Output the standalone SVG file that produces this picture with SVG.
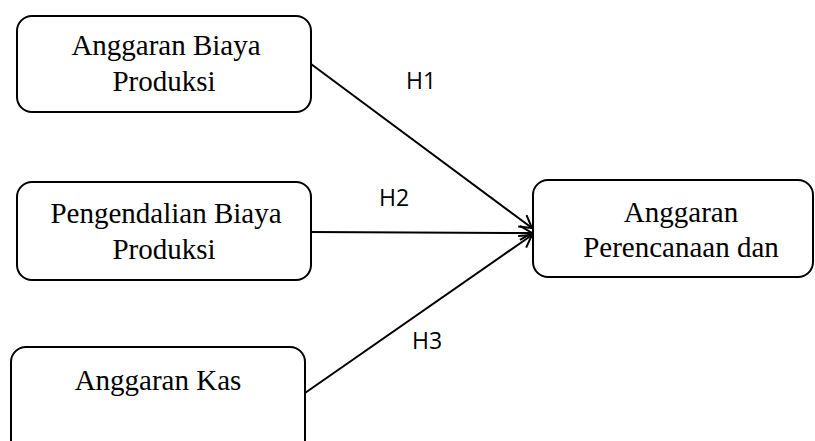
<svg xmlns="http://www.w3.org/2000/svg" width="815" height="441" viewBox="0 0 815 441">
<defs>
<style>
.box{fill:#fff;stroke:#000;stroke-width:2}
.t{font-family:"Liberation Serif","Times New Roman",serif;font-size:29px;fill:#000;text-anchor:middle}
.h{font-family:"Open Sans","Liberation Sans",sans-serif;font-size:23px;fill:#000}
.c{fill:none;stroke:#000;stroke-width:2}
</style>
<marker id="arr" markerUnits="userSpaceOnUse" markerWidth="20" markerHeight="20" refX="14" refY="8" orient="auto">
<path d="M2,1 L14,8 L2,15" fill="none" stroke="#000" stroke-width="2"/>
</marker>
</defs>
<rect width="815" height="441" fill="#fff"/>
<g id="connectors">
<line class="c" x1="311" y1="64" x2="532" y2="228" marker-end="url(#arr)"/>
<line class="c" x1="311" y1="232" x2="532" y2="233" marker-end="url(#arr)"/>
<line class="c" x1="305" y1="393" x2="532" y2="235" marker-end="url(#arr)"/>
<text class="h" x="406" y="89">H1</text>
<text class="h" x="379" y="206">H2</text>
<text class="h" x="412" y="349">H3</text>
</g>
<g id="n1">
<rect class="box" x="17" y="16" width="294" height="96" rx="15"/>
<text class="t" x="166" y="55">Anggaran Biaya</text>
<text class="t" x="164" y="91">Produksi</text>
</g>
<g id="n2">
<rect class="box" x="17" y="182" width="294" height="98" rx="15"/>
<text class="t" x="166" y="223">Pengendalian Biaya</text>
<text class="t" x="164" y="259">Produksi</text>
</g>
<g id="n3">
<rect class="box" x="11" y="347" width="294" height="110" rx="15"/>
<text class="t" x="158" y="390">Anggaran Kas</text>
</g>
<g id="n4">
<rect class="box" x="533" y="180" width="280" height="97" rx="15"/>
<text class="t" x="681" y="222">Anggaran</text>
<text class="t" x="681" y="257">Perencanaan dan</text>
</g>
</svg>
